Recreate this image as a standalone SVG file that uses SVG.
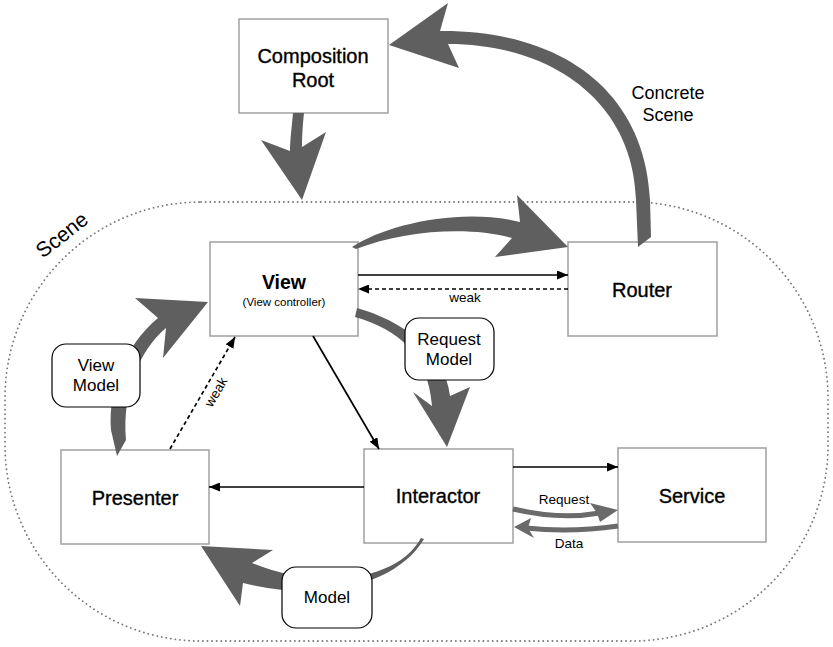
<svg xmlns="http://www.w3.org/2000/svg" width="833" height="647" viewBox="0 0 833 647">
<style>
  text { font-family: "Liberation Sans", Arial, Helvetica, sans-serif; fill: #000; }
  .title { font-size: 20px; text-anchor: middle; stroke: #000; stroke-width: 0.35; }
  .lbl { font-size: 17px; text-anchor: middle; }
  .small { font-size: 13.5px; text-anchor: middle; }
  .box { fill: #fff; stroke: #a0a0a0; stroke-width: 1.5; }
  .rbox { fill: #fff; stroke: #000; stroke-width: 1.2; }
  .thin { fill: none; stroke: #000; stroke-width: 1.7; marker-end: url(#ah); }
  .dash { stroke-dasharray: 4 3; }
  .fat { fill: #5f5f5f; stroke: none; }
  .mid { fill: none; stroke: #6a6a6a; stroke-width: 5; }
  .midhead { fill: #6a6a6a; stroke: none; }
</style>
<defs>
  <marker id="ah" markerUnits="userSpaceOnUse" markerWidth="11" markerHeight="9" refX="11" refY="4.5" orient="auto">
    <path d="M0,0 L11,4.5 L0,9 Z" fill="#000"/>
  </marker>
</defs>
<rect width="833" height="647" fill="#fff"/>

<g id="scene">
  <rect x="5" y="202" width="823" height="439" rx="196" ry="196" fill="none" stroke="#777" stroke-width="1.8" stroke-linecap="round" stroke-dasharray="0.1 4.5"/>
  <text transform="translate(62,235) rotate(-38)" x="0" y="7" font-size="21" text-anchor="middle">Scene</text>
</g>

<g id="composition-root">
  <rect class="box" x="239" y="19" width="149" height="94"/>
  <text class="title" x="313" y="63">Composition</text>
  <text class="title" x="313" y="87">Root</text>
</g>
<g id="view">
  <rect class="box" x="210" y="242" width="148" height="94"/>
  <text x="284" y="289" font-size="19.5" font-weight="bold" text-anchor="middle">View</text>
  <text x="284" y="306" font-size="11.5" text-anchor="middle">(View controller)</text>
</g>
<g id="router">
  <rect class="box" x="568" y="242" width="149" height="94"/>
  <text class="title" x="642" y="297">Router</text>
</g>
<g id="presenter">
  <rect class="box" x="61" y="450" width="148" height="94"/>
  <text class="title" x="135" y="505">Presenter</text>
</g>
<g id="interactor">
  <rect class="box" x="364" y="449" width="149" height="94"/>
  <text class="title" x="438" y="503">Interactor</text>
</g>
<g id="service">
  <rect class="box" x="618" y="448" width="148" height="94"/>
  <text class="title" x="692" y="503">Service</text>
</g>

<g id="connectors">
  <path class="thin" d="M358,275 L568,275"/>
  <path class="thin dash" d="M568,289 L358,289"/>
  <path class="thin" d="M313,336 L379,449"/>
  <path class="thin" d="M364,487 L209,487"/>
  <path class="thin" d="M513,467 L618,467"/>
  <path class="thin dash" d="M170,449 L235,337"/>

  <path class="fat" d="M293,113 C292,125 290,140 290,151 L261,140 L302,200 L326,132 L302,147 C302,135 303,122 304,113 Z"/>
  <path class="fat" d="M638,247 L636,200 C633,100 550,44 448,44 L459,68 L389,45 L448,3 L440,31 C560,30 645,90 650,200 L651,237 Z"/>
  <path class="fat" d="M352,247 C385,225 460,207 520,222 L517,195 L568,247 L495,257 L512,238 C470,226 405,230 356,249 Z"/>
  <path class="fat" d="M357,308 C400,320 445,350 450,396 L470,387 L447,447 L413,392 L432,406 C428,355 400,330 355,317 Z"/>
  <path class="fat" d="M117,456 L111,430 C108,390 125,345 158,318 L135,298 L208,302 L163,358 L166,328 C140,350 122,390 126,440 Z"/>
  <path class="fat" d="M424,539 C400,580 330,605 243,583 L240,606 L201,546 L273,550 L252,563 C310,588 395,585 421,538 Z"/>

  <path class="mid" d="M513,509 Q560,520 600,513"/>
  <path class="midhead" d="M590,503 L618,510 L600,522 L597,513 Z"/>
  <path class="mid" d="M618,526 Q570,533 526,528"/>
  <path class="midhead" d="M531,518 L514,527 L534,538 L528,528 Z"/>

  <text x="668" y="99" font-size="18" text-anchor="middle">Concrete</text>
  <text x="668" y="121" font-size="18" text-anchor="middle">Scene</text>
  <text class="small" x="465" y="302">weak</text>
  <text class="small" transform="translate(216,392) rotate(-60)" x="0" y="4.5">weak</text>
  <text class="small" x="564" y="504">Request</text>
  <text class="small" x="569" y="548">Data</text>
</g>

<g id="view-model">
  <rect class="rbox" x="52" y="344" width="88" height="63" rx="14"/>
  <text class="lbl" x="96" y="371">View</text>
  <text class="lbl" x="96" y="391">Model</text>
</g>
<g id="request-model">
  <rect class="rbox" x="405" y="318" width="89" height="62" rx="14"/>
  <text class="lbl" x="449" y="345">Request</text>
  <text class="lbl" x="449" y="365">Model</text>
</g>
<g id="model">
  <rect class="rbox" x="282" y="567" width="90" height="61" rx="14"/>
  <text class="lbl" x="327" y="603">Model</text>
</g>
</svg>
